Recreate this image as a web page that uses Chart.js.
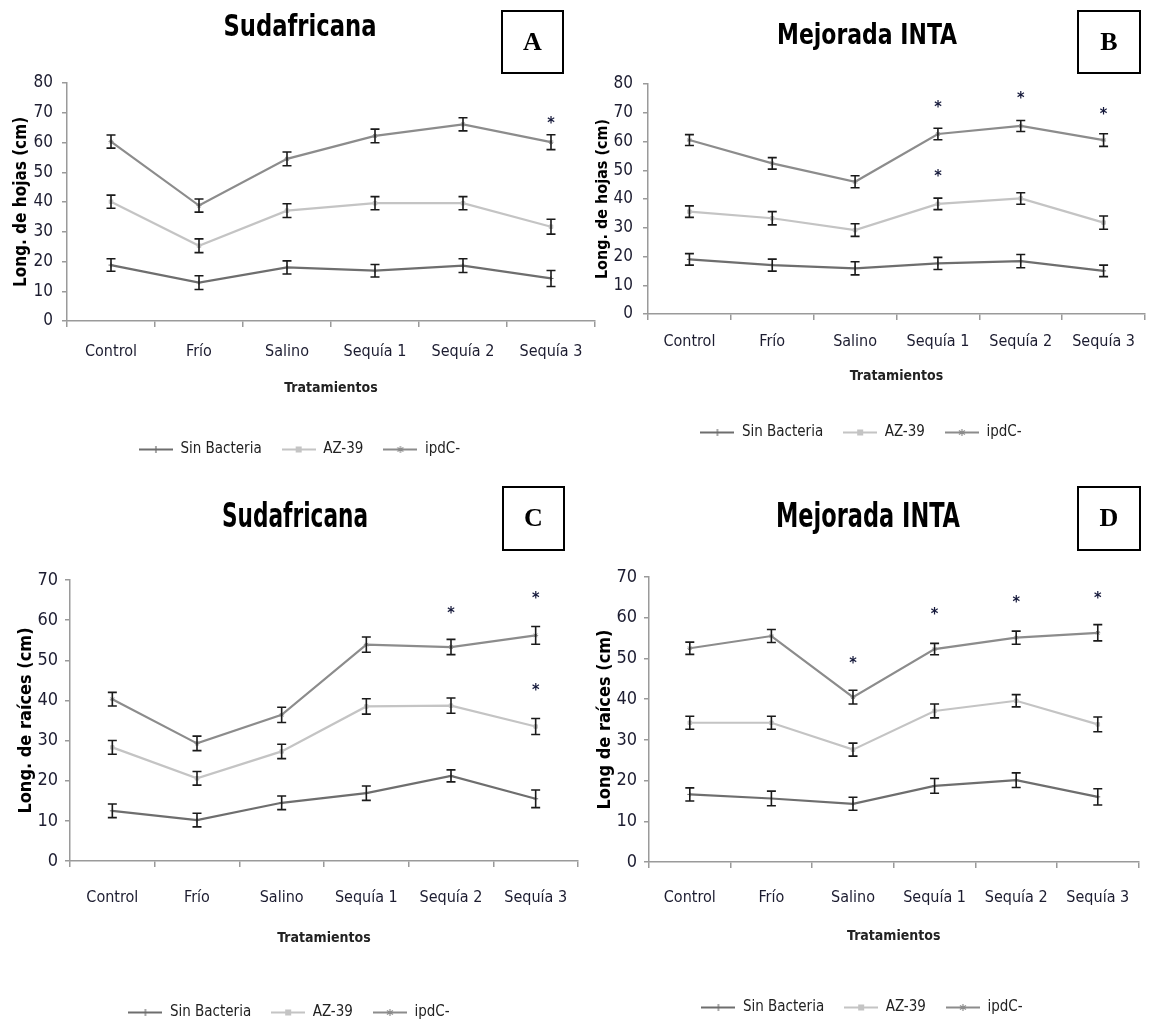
<!DOCTYPE html>
<html><head><meta charset="utf-8">
<script src="https://cdn.jsdelivr.net/npm/chart.js@4.4.1/dist/chart.umd.min.js"></script>
<style>
html,body{margin:0;padding:0;background:#fff;overflow:hidden;}
#wrap{position:relative;width:1150px;height:1025px;overflow:hidden;background:#fff;}
canvas{position:absolute;}
</style></head><body><div id="wrap">
<canvas id="cA"></canvas><canvas id="cB"></canvas><canvas id="cC"></canvas><canvas id="cD"></canvas>
</div>
<script>
// ---------------- DATA ----------------
const categories = ['Control', 'Frío', 'Salino', 'Sequía 1', 'Sequía 2', 'Sequía 3'];
const seriesNames = ['Sin Bacteria', 'AZ-39', 'ipdC-'];

// A: Sudafricana – Long. de hojas
const hojasSudSin = [18.8, 12.9, 18.0, 16.9, 18.6, 14.3];
const hojasSudAZ  = [40.1, 25.3, 37.1, 39.6, 39.6, 31.7];
const hojasSudIpd = [60.3, 38.8, 54.5, 62.2, 66.1, 60.1];
const hojasSudErrSin = [2.1, 2.3, 2.2, 2.1, 2.3, 2.7];
const hojasSudErrAZ  = [2.2, 2.3, 2.3, 2.2, 2.2, 2.5];
const hojasSudErrIpd = [2.2, 2.2, 2.3, 2.3, 2.2, 2.5];
const hojasSudStars = [[5, 67.5]];

// B: Mejorada INTA – Long. de hojas
const hojasMejSin = [19.0, 17.0, 15.9, 17.6, 18.4, 15.0];
const hojasMejAZ  = [35.6, 33.3, 29.2, 38.3, 40.2, 31.8];
const hojasMejIpd = [60.5, 52.4, 46.0, 62.6, 65.4, 60.5];
const hojasMejErrSin = [2.0, 2.1, 2.3, 2.1, 2.3, 2.0];
const hojasMejErrAZ  = [2.0, 2.3, 2.2, 2.0, 2.0, 2.3];
const hojasMejErrIpd = [1.9, 2.0, 2.1, 2.0, 1.9, 2.2];
const hojasMejStars = [[3, 73.0], [3, 49.0], [4, 76.4], [5, 70.7]];

// C: Sudafricana – Long. de raíces
const raicesSudSin = [12.5, 10.2, 14.5, 16.9, 21.2, 15.5];
const raicesSudAZ  = [28.3, 20.6, 27.3, 38.5, 38.7, 33.5];
const raicesSudIpd = [40.3, 29.3, 36.4, 53.9, 53.3, 56.2];
const raicesSudErrSin = [1.7, 1.7, 1.7, 1.8, 1.5, 2.2];
const raicesSudErrAZ  = [1.7, 1.7, 1.8, 1.9, 1.9, 2.0];
const raicesSudErrIpd = [1.7, 1.8, 1.9, 1.9, 1.9, 2.2];
const raicesSudStars = [[4, 62.6], [5, 66.3], [5, 43.3]];

// D: Mejorada INTA – Long. de raíces
const raicesMejSin = [16.6, 15.6, 14.3, 18.7, 20.1, 16.0];
const raicesMejAZ  = [34.2, 34.2, 27.6, 37.1, 39.6, 33.8];
const raicesMejIpd = [52.5, 55.5, 40.5, 52.3, 55.1, 56.3];
const raicesMejErrSin = [1.6, 1.8, 1.6, 1.8, 1.8, 2.0];
const raicesMejErrAZ  = [1.6, 1.6, 1.6, 1.7, 1.5, 1.8];
const raicesMejErrIpd = [1.5, 1.6, 1.7, 1.4, 1.6, 2.0];
const raicesMejStars = [[2, 49.6], [3, 61.6], [4, 64.7], [5, 65.7]];

const hojasTicksMax = 80;
const raicesTicksMax = 70;
const tickStep = 10;

// ---------------- STYLE ----------------
const FONT = "'DejaVu Sans Condensed','Liberation Sans Narrow','Open Sans',sans-serif";
Chart.defaults.font.family = FONT;
const AXIS = '#9a9a9a';
const TXT = '#1c1c30';
const seriesColors = ['#6e6e6e', '#c4c4c4', '#8c8c8c'];
const seriesPoint = ['cross', 'rect', 'star'];

function makeIcon(color, kind) {
  const c = document.createElement('canvas');
  c.width = 34; c.height = 9;
  const g = c.getContext('2d');
  g.strokeStyle = color; g.lineWidth = 2;
  g.beginPath(); g.moveTo(0, 4.5); g.lineTo(34, 4.5); g.stroke();
  g.fillStyle = color; g.strokeStyle = color; g.lineWidth = 1.2;
  if (kind === 'rect') { g.fillRect(14, 1.5, 6, 6); }
  else if (kind === 'cross') { g.beginPath(); g.moveTo(17, 1); g.lineTo(17, 8); g.stroke(); }
  else { g.beginPath(); g.moveTo(17, 1); g.lineTo(17, 8); g.moveTo(14, 2.5); g.lineTo(20, 6.5); g.moveTo(20, 2.5); g.lineTo(14, 6.5); g.stroke(); }
  return c;
}
const legendIcons = seriesColors.map((c, i) => makeIcon(c, seriesPoint[i]));

const errorBarPlugin = {
  id: 'errorBars',
  afterDatasetsDraw(chart) {
    const ctx = chart.ctx, y = chart.scales.y;
    ctx.save();
    ctx.strokeStyle = '#1a1a1a'; ctx.lineWidth = 1.6;
    chart.data.datasets.forEach((ds, i) => {
      const meta = chart.getDatasetMeta(i);
      meta.data.forEach((pt, j) => {
        const v = ds.data[j], e = ds.errors[j];
        const y1 = y.getPixelForValue(v + e), y2 = y.getPixelForValue(v - e);
        ctx.beginPath();
        ctx.moveTo(pt.x, y1); ctx.lineTo(pt.x, y2);
        ctx.moveTo(pt.x - 4.5, y1); ctx.lineTo(pt.x + 4.5, y1);
        ctx.moveTo(pt.x - 4.5, y2); ctx.lineTo(pt.x + 4.5, y2);
        ctx.stroke();
      });
    });
    ctx.restore();
  }
};

function decoPlugin(p, stars) {
  return {
    id: 'deco',
    afterDraw(chart) {
      const ctx = chart.ctx, xs = chart.scales.x, ys = chart.scales.y;
      ctx.save();
      // panel title, fitted to the narrow face of the original
      ctx.fillStyle = '#000';
      ctx.font = 'bold ' + p.titleSize + 'px ' + FONT;
      ctx.textAlign = 'center'; ctx.textBaseline = 'middle';
      const mw = ctx.measureText(p.title).width;
      ctx.save();
      ctx.translate(p.titleX - p.left, p.titleY - p.top);
      ctx.scale(p.titleW / mw, 1);
      ctx.fillText(p.title, 0, 0);
      ctx.restore();
      // letter box
      ctx.lineWidth = 2; ctx.strokeStyle = '#000';
      ctx.strokeRect(p.box[0] - p.left, p.box[1] - p.top, p.box[2], p.box[3]);
      ctx.font = "bold 26px 'Liberation Serif','Times New Roman',serif";
      ctx.fillText(p.letter, p.box[0] - p.left + p.box[2] / 2, p.box[1] - p.top + p.box[3] / 2 + 1);
      // asterisks
      ctx.fillStyle = '#14183a';
      ctx.font = 'bold 16px ' + FONT;
      stars.forEach(([i, v]) => {
        ctx.fillText('*', xs.getPixelForValue(i), ys.getPixelForValue(v) + 4);
      });
      ctx.restore();
    }
  };
}

function buildChart(p, sin, az, ipd, errs, stars) {
  const cv = document.getElementById(p.id);
  const LP = 20, LF = 15;
  const legendTop = p.legendY - p.top - 27;
  const H = Math.round(legendTop + 45);
  cv.width = p.width; cv.height = H;
  cv.style.left = p.left + 'px'; cv.style.top = p.top + 'px';
  const aL = p.area[0] - p.left, aR = p.area[1] - p.left, aT = p.area[2] - p.top, aB = p.area[3] - p.top;
  const xH = legendTop - aB;
  const xTickF = 16, xTickLen = 6;
  const xTickPad = (p.tickLabelY - p.top - aB) - xTickLen - xTickF * 1.2 / 2;
  const xTitleF = 14;
  const xTitlePadB = (legendTop - (p.xTitleY - p.top)) - xTitleF * 1.2 / 2;
  const yTitlePadT = (p.yTitleX - p.left) - p.yTitleSize * 1.2 / 2;
  const datasets = [sin, az, ipd].map((d, i) => ({
    label: seriesNames[i], data: d, errors: errs[i],
    borderColor: seriesColors[i], backgroundColor: seriesColors[i],
    borderWidth: 2.2, pointRadius: 2.5, pointStyle: seriesPoint[i], pointBorderWidth: 1,
    tension: 0, fill: false
  }));
  new Chart(cv, {
    type: 'line',
    data: { labels: categories, datasets },
    options: {
      responsive: false, animation: false, devicePixelRatio: 1,
      layout: { padding: { left: 0, right: p.width - aR, top: aT, bottom: 0 } },
      scales: {
        x: {
          offset: true,
          grid: { offset: true, drawOnChartArea: false, tickLength: xTickLen, color: AXIS, lineWidth: 1.5 },
          border: { color: AXIS, width: 1.5 },
          ticks: { padding: xTickPad, font: { size: xTickF }, color: TXT, maxRotation: 0, autoSkip: false },
          title: { display: true, text: 'Tratamientos', color: '#222', font: { size: xTitleF, weight: 'bold' }, padding: { top: 0, bottom: xTitlePadB } },
          afterFit(s) { s.height = xH; }
        },
        y: {
          min: 0, max: p.yMax,
          grid: { drawOnChartArea: false, tickLength: 5, color: AXIS, lineWidth: 1.5 },
          border: { color: AXIS, width: 1.5 },
          ticks: { stepSize: tickStep, padding: p.yTickPad, font: { size: p.yTickSize }, color: TXT },
          title: { display: true, text: p.yTitle, color: '#000', font: { size: p.yTitleSize, weight: 'bold' }, padding: { top: yTitlePadT, bottom: 0 } },
          afterFit(s) { s.width = aL; }
        }
      },
      plugins: {
        legend: {
          position: 'bottom',
          labels: {
            usePointStyle: true, pointStyleWidth: 34, padding: LP, color: '#222', font: { size: LF },
            generateLabels(chart) {
              const items = Chart.defaults.plugins.legend.labels.generateLabels(chart);
              items.forEach((it, i) => { it.pointStyle = legendIcons[i]; });
              return items;
            }
          }
        },
        tooltip: { enabled: false }
      }
    },
    plugins: [errorBarPlugin, decoPlugin(p, stars)]
  });
}

buildChart({ id: 'cA', left: 0, top: 0, width: 600, area: [67, 599, 83, 321], yMax: hojasTicksMax,
  tickLabelY: 352, xTitleY: 388, yTitleX: 22, legendY: 449, yTickPad: 9, yTickSize: 17,
  yTitle: 'Long. de hojas (cm)', yTitleSize: 17, title: 'Sudafricana', titleSize: 31, titleW: 153, titleX: 300, titleY: 28,
  box: [502, 11, 61, 62], letter: 'A' },
  hojasSudSin, hojasSudAZ, hojasSudIpd, [hojasSudErrSin, hojasSudErrAZ, hojasSudErrIpd], hojasSudStars);

buildChart({ id: 'cB', left: 575, top: 0, width: 575, area: [648, 1147, 84, 314], yMax: hojasTicksMax,
  tickLabelY: 342, xTitleY: 376, yTitleX: 603, legendY: 432, yTickPad: 10, yTickSize: 17,
  yTitle: 'Long. de hojas (cm)', yTitleSize: 16, title: 'Mejorada INTA', titleSize: 29, titleW: 180, titleX: 867, titleY: 36,
  box: [1078, 11, 62, 62], letter: 'B' },
  hojasMejSin, hojasMejAZ, hojasMejIpd, [hojasMejErrSin, hojasMejErrAZ, hojasMejErrIpd], hojasMejStars);

buildChart({ id: 'cC', left: 0, top: 470, width: 600, area: [70, 578, 580, 861], yMax: raicesTicksMax,
  tickLabelY: 898, xTitleY: 938, yTitleX: 26, legendY: 1012, yTickPad: 7, yTickSize: 18,
  yTitle: 'Long. de raíces (cm)', yTitleSize: 18, title: 'Sudafricana', titleSize: 33, titleW: 146, titleX: 295, titleY: 518,
  box: [503, 487, 61, 63], letter: 'C' },
  raicesSudSin, raicesSudAZ, raicesSudIpd, [raicesSudErrSin, raicesSudErrAZ, raicesSudErrIpd], raicesSudStars);

buildChart({ id: 'cD', left: 575, top: 470, width: 575, area: [649, 1149, 577, 862], yMax: raicesTicksMax,
  tickLabelY: 898, xTitleY: 936, yTitleX: 605, legendY: 1007, yTickPad: 7, yTickSize: 18,
  yTitle: 'Long de raíces (cm)', yTitleSize: 18, title: 'Mejorada INTA', titleSize: 33, titleW: 184, titleX: 868, titleY: 518,
  box: [1078, 487, 62, 63], letter: 'D' },
  raicesMejSin, raicesMejAZ, raicesMejIpd, [raicesMejErrSin, raicesMejErrAZ, raicesMejErrIpd], raicesMejStars);
</script>
</body></html>
